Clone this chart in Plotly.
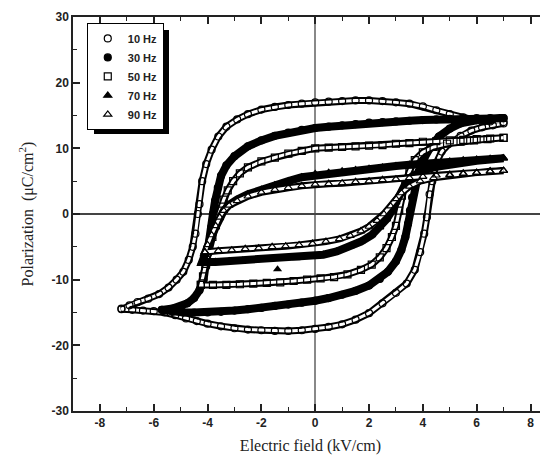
import plotly.graph_objects as go

# hysteresis loops: upper branch (field going down), lower branch (field going up)
E_up_10 = [7.0, 6.5, 6.0, 5.5, 5.0, 4.5, 4.0, 3.5, 3.0, 2.5, 2.0, 1.5, 1.0, 0.5, 0.0, -0.5, -1.0, -1.5, -2.0, -2.5,
           -2.9, -3.3, -3.6, -3.85, -4.05, -4.2, -4.3, -4.36, -4.45, -4.55, -4.7, -4.9, -5.15, -5.45, -5.8, -6.2, -6.6, -6.9, -7.2]
P_up_10 = [14.0, 14.1, 14.3, 14.7, 15.2, 15.8, 16.4, 16.8, 17.0, 17.2, 17.3, 17.3, 17.2, 17.1, 17.0, 16.8, 16.6, 16.3, 15.9, 15.2,
           14.4, 13.3, 11.8, 9.8, 7.6, 5.0, 1.5, 0.0, -3.0, -5.0, -7.0, -8.8, -10.0, -11.2, -12.2, -12.9, -13.4, -13.9, -14.4]
E_lo_10 = [-7.2, -6.8, -6.4, -6.0, -5.6, -5.2, -4.8, -4.4, -4.0, -3.5, -3.0, -2.5, -2.0, -1.5, -1.0, -0.5, 0.0, 0.5, 1.0, 1.5,
           2.0, 2.5, 3.0, 3.4, 3.7, 3.9, 4.05, 4.15, 4.25, 4.35, 4.5, 4.7, 5.0, 5.4, 5.8, 6.2, 6.6, 7.0]
P_lo_10 = [-14.5, -14.6, -14.7, -14.8, -15.0, -15.4, -15.9, -16.3, -16.7, -17.1, -17.4, -17.6, -17.7, -17.8, -17.8, -17.7, -17.5, -17.2, -16.8, -16.1,
           -15.1, -13.6, -12.0, -10.6, -8.5, -5.8, -3.0, -0.5, 3.0, 5.0, 7.8, 9.5, 10.8, 11.9, 12.7, 13.2, 13.5, 13.8]

E_up_30 = [7.0, 6.5, 6.0, 5.5, 5.0, 4.5, 4.0, 3.5, 3.0, 2.5, 2.0, 1.5, 1.0, 0.5, 0.0, -0.5, -1.0, -1.5, -2.0, -2.5,
           -3.0, -3.3, -3.5, -3.62, -3.72, -3.8, -3.86, -3.92, -3.98, -4.05, -4.15, -4.3, -4.5, -4.75, -5.0, -5.3, -5.7]
P_up_30 = [14.6, 14.6, 14.6, 14.5, 14.5, 14.4, 14.3, 14.2, 14.1, 14.0, 13.9, 13.7, 13.5, 13.3, 13.1, 12.8, 12.4, 11.9, 11.2, 10.3,
           8.8, 7.4, 5.8, 4.0, 2.0, 0.0, -2.0, -4.0, -6.0, -8.0, -10.0, -11.6, -12.8, -13.6, -14.1, -14.4, -14.6]
E_lo_30 = [-5.7, -5.3, -4.9, -4.5, -4.0, -3.5, -3.0, -2.5, -2.0, -1.5, -1.0, -0.5, 0.0, 0.5, 1.0, 1.5, 2.0, 2.4,
           2.7, 3.0, 3.2, 3.35, 3.45, 3.52, 3.6, 3.7, 3.85, 4.05, 4.3, 4.6, 5.0, 5.4, 5.8, 6.2, 6.6, 7.0]
P_lo_30 = [-14.6, -14.9, -15.0, -15.0, -15.0, -14.9, -14.7, -14.5, -14.3, -14.0, -13.8, -13.5, -13.2, -12.8, -12.3, -11.7, -10.9, -9.9,
           -8.8, -7.2, -5.5, -3.5, -1.5, 0.5, 2.5, 4.5, 6.5, 8.5, 10.3, 11.8, 13.0, 13.8, 14.2, 14.4, 14.5, 14.6]

E_up_50 = [7.0, 6.5, 6.0, 5.5, 5.0, 4.5, 4.0, 3.5, 3.0, 2.5, 2.0, 1.5, 1.0, 0.5, 0.0, -0.5, -1.0, -1.5, -2.0, -2.5,
           -2.8, -3.05, -3.25, -3.4, -3.55, -3.7, -3.82, -3.95, -4.07, -4.17, -4.25]
P_up_50 = [11.6, 11.5, 11.4, 11.3, 11.2, 11.1, 11.0, 10.8, 10.7, 10.5, 10.4, 10.3, 10.2, 10.1, 10.0, 9.6, 9.2, 8.6, 8.0, 7.1,
           6.2, 5.0, 3.6, 2.2, 0.5, -1.5, -3.5, -5.5, -7.6, -9.5, -10.8]
E_lo_50 = [-4.25, -3.8, -3.3, -2.8, -2.3, -1.8, -1.3, -0.8, -0.3, 0.2, 0.7, 1.2, 1.7, 2.1, 2.4, 2.65, 2.85, 3.0,
           3.12, 3.22, 3.35, 3.5, 3.7, 4.0, 4.4, 4.9, 5.4, 5.9, 6.4, 7.0]
P_lo_50 = [-10.8, -10.8, -10.8, -10.7, -10.6, -10.5, -10.4, -10.2, -10.0, -9.8, -9.6, -9.2, -8.5, -7.7, -6.6, -5.2, -3.5, -1.8,
           0.5, 2.8, 4.8, 6.5, 8.2, 9.4, 10.2, 10.7, 11.0, 11.2, 11.4, 11.6]

E_up_70 = [7.0, 6.5, 6.0, 5.5, 5.0, 4.5, 4.0, 3.5, 3.0, 2.5, 2.0, 1.5, 1.0, 0.5, 0.0, -0.5, -1.0, -1.5, -2.0, -2.5,
           -2.9, -3.2, -3.4, -3.55, -3.7, -3.85, -4.0, -4.1, -4.2]
P_up_70 = [8.5, 8.4, 8.3, 8.2, 8.0, 7.9, 7.7, 7.5, 7.3, 7.1, 6.9, 6.7, 6.5, 6.3, 6.1, 5.6, 5.0, 4.4, 3.7, 3.0,
           2.2, 1.4, 0.5, -0.6, -2.0, -3.5, -5.0, -6.2, -7.3]
E_lo_70 = [-4.2, -3.7, -3.2, -2.7, -2.2, -1.7, -1.2, -0.7, -0.2, 0.3, 0.8, 1.3, 1.7, 2.1, 2.4, 2.65, 2.85, 3.0,
           3.15, 3.35, 3.6, 4.0, 4.5, 5.0, 5.5, 6.0, 6.5, 7.0]
P_lo_70 = [-7.3, -7.3, -7.2, -7.1, -7.0, -6.9, -6.8, -6.7, -6.5, -6.2, -5.7, -4.9, -4.2, -3.2, -2.0, -0.8, 0.5, 1.8,
           3.2, 4.6, 5.7, 6.6, 7.2, 7.6, 7.9, 8.1, 8.3, 8.5]
# one stray 70 Hz point below the loop
E_stray_70 = [-1.4]
P_stray_70 = [-8.4]

E_up_90 = [7.0, 6.5, 6.0, 5.5, 5.0, 4.5, 4.0, 3.5, 3.0, 2.5, 2.0, 1.5, 1.0, 0.5, 0.0, -0.5, -1.0, -1.5, -2.0, -2.5,
           -2.9, -3.2, -3.4, -3.55, -3.7, -3.85, -4.0, -4.1]
P_up_90 = [6.6, 6.5, 6.3, 6.2, 6.0, 5.9, 5.7, 5.5, 5.3, 5.2, 5.0, 4.9, 4.7, 4.6, 4.5, 4.3, 4.0, 3.7, 3.3, 2.7,
           2.0, 1.3, 0.5, -0.5, -1.8, -3.2, -4.7, -5.8]
E_lo_90 = [-4.1, -3.6, -3.1, -2.6, -2.1, -1.6, -1.1, -0.6, -0.1, 0.4, 0.9, 1.3, 1.7, 2.0, 2.3, 2.55, 2.8, 3.0,
           3.2, 3.5, 3.9, 4.4, 5.0, 5.5, 6.0, 6.5, 7.0]
P_lo_90 = [-5.8, -5.6, -5.5, -5.3, -5.2, -5.0, -4.9, -4.7, -4.5, -4.2, -3.8, -3.3, -2.6, -1.9, -1.0, 0.0, 1.2, 2.3,
           3.2, 4.2, 5.0, 5.5, 5.9, 6.1, 6.3, 6.5, 6.6]

labels = ["10 Hz", "30 Hz", "50 Hz", "70 Hz", "90 Hz"]
x_ticks = [-8, -6, -4, -2, 0, 2, 4, 6, 8]
x_ticktext = ["-8", "-6", "-4", "-2", "0", "2", "4", "6", "8"]
y_ticks = [-30, -20, -10, 0, 10, 20, 30]
y_ticktext = ["-30", "-20", "-10", "0", "10", "20", "30"]

loops = [
    (E_up_10 + E_lo_10, P_up_10 + P_lo_10, "circle-open", False),
    (E_up_30 + E_lo_30, P_up_30 + P_lo_30, "circle", True),
    (E_up_50 + E_lo_50, P_up_50 + P_lo_50, "square-open", False),
    (E_up_70 + E_lo_70, P_up_70 + P_lo_70, "triangle-up", True),
    (E_up_90 + E_lo_90, P_up_90 + P_lo_90, "triangle-up-open", False),
]

fig = go.Figure()

for (ex, py, sym, filled), name in zip(loops, labels):
    # dense markers in the original merge into a band, so draw a tube under the points
    fig.add_trace(go.Scatter(x=ex, y=py, mode="lines", showlegend=False, hoverinfo="skip",
                             line=dict(color="black", width=8 if filled else 7)))
    if not filled:
        fig.add_trace(go.Scatter(x=ex, y=py, mode="lines", showlegend=False, hoverinfo="skip",
                                 line=dict(color="white", width=3)))
    fig.add_trace(go.Scatter(
        x=ex, y=py, mode="markers", name=name,
        marker=dict(symbol=sym, size=7, color="black",
                    line=dict(color="black", width=1.2)),
    ))
    if name == "70 Hz":
        fig.add_trace(go.Scatter(x=E_stray_70, y=P_stray_70, mode="markers", showlegend=False,
                                 marker=dict(symbol="triangle-up", size=8, color="black")))

axis_font = dict(family="Liberation Sans, Arial", size=12, color="#222", weight="bold")
title_font = dict(family="Liberation Serif, Times New Roman", size=16, color="#222")

# the page body adds an 8px offset, margins are trimmed to compensate
fig.update_layout(
    width=548, height=455,
    margin=dict(l=65, r=8, t=9, b=52),
    paper_bgcolor="white", plot_bgcolor="white",
    showlegend=True,
    legend=dict(x=0.029, y=0.985, xanchor="left", yanchor="top",
                bgcolor="white", bordercolor="black", borderwidth=1,
                font=dict(family="Liberation Sans, Arial", size=11, color="#222", weight="bold"),
                itemwidth=30, tracegroupgap=0),
    # drop shadow behind the legend box, sized in pixels from the plot's top-left corner
    shapes=[dict(type="rect", layer="above",
                 xref="paper", xsizemode="pixel", xanchor=0, x0=21, x1=96,
                 yref="paper", ysizemode="pixel", yanchor=1, y0=-117, y1=-13,
                 fillcolor="black", line=dict(width=0))],
)

fig.update_xaxes(
    range=[-9, 8.65], tickvals=x_ticks, ticktext=x_ticktext, automargin=False,
    ticks="inside", ticklen=7, tickwidth=1.5, tickcolor="#222",
    minor=dict(ticks="inside", ticklen=4, tickwidth=1.2, tickcolor="#222", dtick=1, tick0=0),
    showline=True, linecolor="#222", linewidth=1.5, mirror="ticks",
    showgrid=False, zeroline=True, zerolinecolor="#888", zerolinewidth=1.5,
    tickfont=axis_font,
    title=dict(text="Electric field (kV/cm)", font=title_font, standoff=11),
)
fig.update_yaxes(
    range=[-30, 30], tickvals=y_ticks, ticktext=y_ticktext, automargin=False,
    ticks="inside", ticklen=7, tickwidth=1.5, tickcolor="#222",
    minor=dict(ticks="inside", ticklen=4, tickwidth=1.2, tickcolor="#222", dtick=5, tick0=0),
    showline=True, linecolor="#222", linewidth=1.5,
    showgrid=False, zeroline=True, zerolinecolor="#444", zerolinewidth=2,
    tickfont=axis_font,
    title=dict(text="Polarization  (\u03bcC/cm<sup>2</sup>)", font=title_font, standoff=14),
)

fig.write_html("out.html")
